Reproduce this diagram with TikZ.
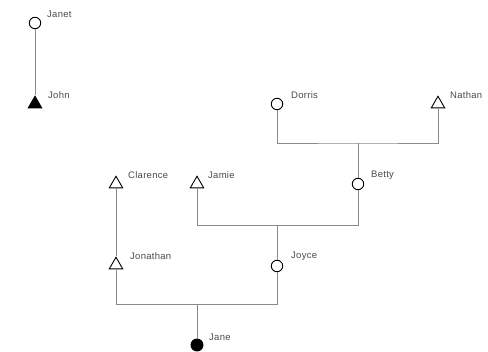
\documentclass[tikz,border=0pt]{standalone}
\usepackage{fontspec}
\setmainfont{Liberation Sans}[LetterSpace=3]
\usetikzlibrary{shapes.geometric}
\definecolor{linegray}{HTML}{8A8A8A}
\definecolor{textgray}{HTML}{4A4A4A}
\tikzset{
  female/.style={circle,draw=black,line width=0.9pt,fill=white,minimum size=11.5pt,inner sep=0pt},
  male/.style={regular polygon,regular polygon sides=3,draw=black,line width=0.9pt,fill=white,minimum size=15.5pt,inner sep=0pt},
  femalefilled/.style={female,fill=black,minimum size=12pt},
  malefilled/.style={male,fill=black},
  lbl/.style={anchor=west,inner sep=0pt,font=\fontsize{9.5}{11}\selectfont,text=textgray},
  link/.style={draw=linegray,line width=0.8pt}
}
\begin{document}
\begin{tikzpicture}[x=1pt,y=-1pt]
\useasboundingbox (0,0) rectangle (488,352);

% junction points of the family bars
\coordinate (barA) at (358,143);
\coordinate (barB) at (277,225);
\coordinate (barC) at (197,304);

% people
\node[female]       (Janet)    at (35,23)  {};
\node[malefilled]   (John)     at (35,104) {};
\node[female]       (Doris)    at (277,104) {};
\node[male]         (Nathan)   at (438,104) {};
\node[female]       (Betty)    at (358,184) {};
\node[male]         (Clarence) at (116,184) {};
\node[male]         (Jamie)    at (197,184) {};
\node[male]         (Jonathan) at (116,265) {};
\node[female]       (Joyce)    at (277,266) {};
\node[femalefilled] (Jane)     at (197,345) {};

% connectors
\draw[link] (Janet.south) -- (John.north);
\draw[link] (Doris.south) |- (barA) -| (Nathan.south);
\draw[link] (barA) -- (Betty.north);
\draw[link] (Jamie.south) |- (barB);
\draw[link] (Betty.south) |- (barB);
\draw[link] (barB) -- (Joyce.north);
\draw[link] (Clarence.south) -- (Jonathan.north);
\draw[link] (Jonathan.south) |- (barC);
\draw[link] (Joyce.south) |- (barC);
\draw[link] (barC) -- (Jane.north);

% names
\node[lbl] (JanetL)    at (47,14)   {Janet};
\node[lbl] (JohnL)     at (48,95)   {John};
\node[lbl] (DorisL)    at (291,95)  {Dorris};
\node[lbl] (NathanL)   at (450,95)  {Nathan};
\node[lbl] (BettyL)    at (371,175) {Betty};
\node[lbl] (ClarenceL) at (128,175) {Clarence};
\node[lbl] (JamieL)    at (208,175) {Jamie};
\node[lbl] (JonathanL) at (130,256) {Jonathan};
\node[lbl] (JoyceL)    at (291,256) {Joyce};
\node[lbl] (JaneL)     at (209,337) {Jane};
\end{tikzpicture}
\end{document}
